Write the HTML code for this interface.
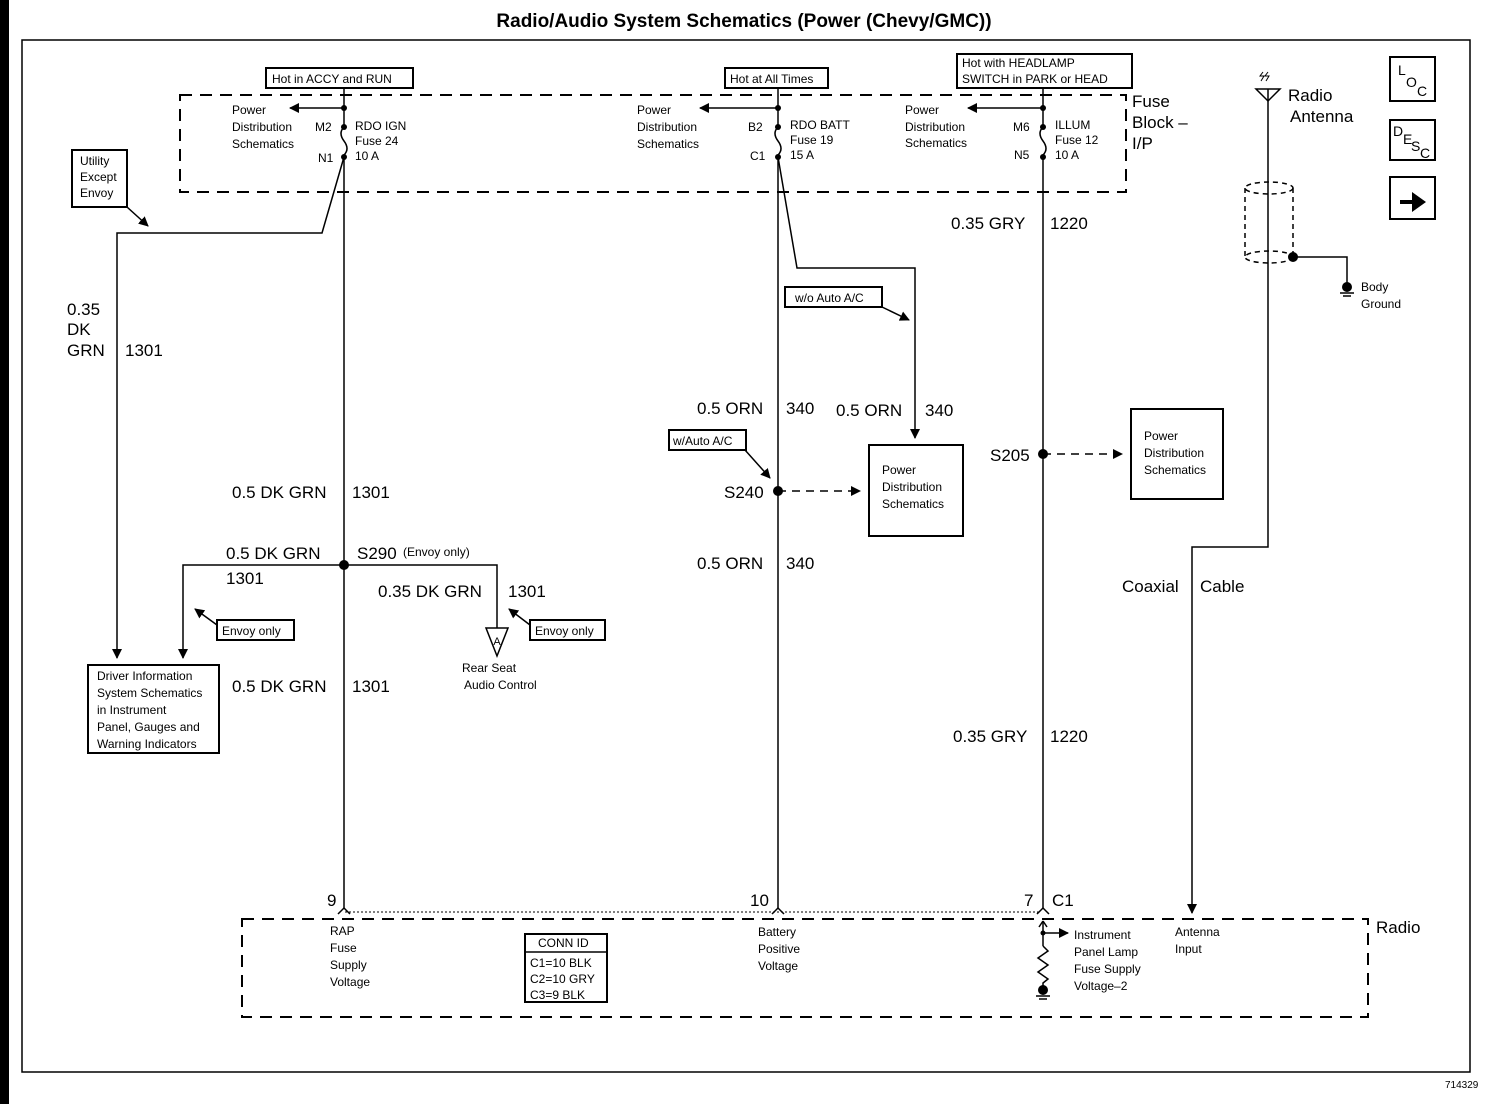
<!DOCTYPE html>
<html><head><meta charset="utf-8"><style>
html,body{margin:0;padding:0;background:#fff;}
svg{display:block;font-family:"Liberation Sans",Arial,sans-serif;}
.s{font-size:12px;}
.m{font-size:17px;}
</style></head><body>
<svg width="1488" height="1104" viewBox="0 0 1488 1104" xmlns="http://www.w3.org/2000/svg">
<defs>
<marker id="a" markerWidth="10" markerHeight="10" refX="9" refY="5" orient="auto" markerUnits="userSpaceOnUse"><path d="M0,0 L10,5 L0,10 z" fill="#000"/></marker>
</defs>
<rect x="0" y="0" width="9" height="1104" fill="#000"/>
<text x="744" y="27" text-anchor="middle" font-size="19" font-weight="bold">Radio/Audio System Schematics (Power (Chevy/GMC))</text>
<rect x="22" y="40" width="1448" height="1032" fill="none" stroke="#000" stroke-width="1.5"/>
<text x="1445" y="1088" font-size="10">714329</text>

<g stroke="#000" fill="none" stroke-width="2" stroke-dasharray="12,8">
<rect x="180" y="95" width="946" height="97"/>
<rect x="242" y="919" width="1126" height="98"/>
</g>
<line x1="345" y1="912" x2="1040" y2="912" stroke="#000" stroke-width="1" stroke-dasharray="2,2"/>

<g class="s">
<text x="1132" y="107" font-size="17">Fuse</text><text x="1132" y="128" font-size="17">Block –</text><text x="1132" y="149" font-size="17">I/P</text>
<text x="1376" y="933" font-size="17">Radio</text>
</g>

<!-- header labels -->
<g stroke="#000" stroke-width="2" fill="#fff">
<rect x="266" y="68" width="147" height="20"/>
<rect x="725" y="68" width="103" height="20"/>
<rect x="957" y="54" width="175" height="34"/>
<rect x="72" y="150" width="55" height="57"/>
<rect x="785" y="287" width="97" height="20"/>
<rect x="669" y="430" width="77" height="20"/>
<rect x="217" y="620" width="77" height="20"/>
<rect x="530" y="620" width="75" height="20"/>
<rect x="88" y="665" width="131" height="88"/>
<rect x="869" y="445" width="94" height="91"/>
<rect x="1131" y="409" width="92" height="90"/>
<rect x="525" y="934" width="82" height="68"/>
<rect x="1390" y="57" width="45" height="44"/>
<rect x="1390" y="120" width="45" height="40"/>
<rect x="1390" y="177" width="45" height="42"/>
</g>
<line x1="525" y1="952" x2="607" y2="952" stroke="#000" stroke-width="1.5"/>
<path d="M1400,200 h12 v-8 l14,10 l-14,10 v-8 h-12 z" fill="#000"/>
<g class="s">
<text x="272" y="83">Hot in ACCY and RUN</text>
<text x="730" y="83">Hot at All Times</text>
<text x="962" y="67">Hot with HEADLAMP</text>
<text x="962" y="83">SWITCH in PARK or HEAD</text>
<text x="80" y="165">Utility</text><text x="80" y="181">Except</text><text x="80" y="197">Envoy</text>
<text x="795" y="302">w/o Auto A/C</text>
<text x="673" y="445">w/Auto A/C</text>
<text x="222" y="635">Envoy only</text>
<text x="535" y="635">Envoy only</text>
<text x="97" y="680">Driver Information</text><text x="97" y="697">System Schematics</text><text x="97" y="714">in Instrument</text><text x="97" y="731">Panel, Gauges and</text><text x="97" y="748">Warning Indicators</text>
<text x="882" y="474">Power</text><text x="882" y="491">Distribution</text><text x="882" y="508">Schematics</text>
<text x="1144" y="440">Power</text><text x="1144" y="457">Distribution</text><text x="1144" y="474">Schematics</text>
<text x="538" y="947">CONN ID</text><text x="530" y="967">C1=10 BLK</text><text x="530" y="983">C2=10 GRY</text><text x="530" y="999">C3=9 BLK</text>
<text x="1398" y="75" font-size="14">L</text><text x="1406" y="87" font-size="14">O</text><text x="1417" y="96" font-size="14">C</text>
<text x="1393" y="136" font-size="14">D</text><text x="1403" y="144" font-size="14">E</text><text x="1411" y="151" font-size="14">S</text><text x="1420" y="158" font-size="14">C</text>

<text x="232" y="114">Power</text><text x="232" y="131">Distribution</text><text x="232" y="148">Schematics</text>
<text x="315" y="131">M2</text><text x="318" y="162">N1</text>
<text x="355" y="130">RDO IGN</text><text x="355" y="145">Fuse 24</text><text x="355" y="160">10 A</text>
<text x="637" y="114">Power</text><text x="637" y="131">Distribution</text><text x="637" y="148">Schematics</text>
<text x="748" y="131">B2</text><text x="750" y="160">C1</text>
<text x="790" y="129">RDO BATT</text><text x="790" y="144">Fuse 19</text><text x="790" y="159">15 A</text>
<text x="905" y="114">Power</text><text x="905" y="131">Distribution</text><text x="905" y="147">Schematics</text>
<text x="1013" y="131">M6</text><text x="1014" y="159">N5</text>
<text x="1055" y="129">ILLUM</text><text x="1055" y="144">Fuse 12</text><text x="1055" y="159">10 A</text>
<text x="1361" y="291">Body</text><text x="1361" y="308">Ground</text>
<text x="462" y="672">Rear Seat</text><text x="464" y="689">Audio Control</text>
<text x="330" y="935">RAP</text><text x="330" y="952">Fuse</text><text x="330" y="969">Supply</text><text x="330" y="986">Voltage</text>
<text x="758" y="936">Battery</text><text x="758" y="953">Positive</text><text x="758" y="970">Voltage</text>
<text x="1074" y="939">Instrument</text><text x="1074" y="956">Panel Lamp</text><text x="1074" y="973">Fuse Supply</text><text x="1074" y="990">Voltage–2</text>
<text x="1175" y="936">Antenna</text><text x="1175" y="953">Input</text>
<text x="403" y="556" font-size="12">(Envoy only)</text>
</g>

<g class="m">
<text x="1288" y="101">Radio</text><text x="1290" y="122">Antenna</text>
<text x="67" y="315">0.35</text><text x="67" y="335">DK</text><text x="67" y="356">GRN</text>
<line x1="117" y1="340" x2="117" y2="360" stroke="#000"/>
<text x="125" y="356">1301</text>
<text x="232" y="498">0.5 DK GRN</text><text x="352" y="498">1301</text>
<text x="226" y="559">0.5 DK GRN</text><text x="357" y="559">S290</text>
<text x="226" y="584">1301</text>
<text x="378" y="597">0.35 DK GRN</text><text x="508" y="597">1301</text>
<text x="232" y="692">0.5 DK GRN</text><text x="352" y="692">1301</text>
<text x="697" y="414">0.5 ORN</text><text x="786" y="414">340</text>
<text x="836" y="416">0.5 ORN</text><text x="925" y="416">340</text>
<text x="724" y="498">S240</text>
<text x="697" y="569">0.5 ORN</text><text x="786" y="569">340</text>
<text x="951" y="229">0.35 GRY</text><text x="1050" y="229">1220</text>
<text x="990" y="461">S205</text>
<text x="1122" y="592">Coaxial</text><text x="1200" y="592">Cable</text>
<text x="953" y="742">0.35 GRY</text><text x="1050" y="742">1220</text>
<text x="327" y="906">9</text><text x="750" y="906">10</text><text x="1024" y="906">7</text><text x="1052" y="906">C1</text>
</g>

<g stroke="#000" fill="none" stroke-width="1.5">
<!-- left column -->
<line x1="344" y1="88" x2="344" y2="125"/>
<path d="M344,127 q-6,6 0,14 q6,8 0,14"/>
<line x1="344" y1="157" x2="344" y2="908"/>
<line x1="344" y1="108" x2="290" y2="108" marker-end="url(#a)"/>
<path d="M344,157 L322,233 L117,233 L117,658" marker-end="url(#a)"/>
<line x1="127" y1="207" x2="148" y2="226" marker-end="url(#a)"/>
<path d="M344,565 L183,565 L183,658" marker-end="url(#a)"/>
<path d="M344,565 L497,565 L497,628"/>
<path d="M486,628 L508,628 L497,656 z"/>
<line x1="217" y1="625" x2="195" y2="609" marker-end="url(#a)"/>
<line x1="530" y1="625" x2="509" y2="609" marker-end="url(#a)"/>
<path d="M338,914 l6,-6 l6,6"/>
<!-- middle -->
<line x1="778" y1="88" x2="778" y2="125"/>
<path d="M778,127 q-6,6 0,14 q6,8 0,14"/>
<line x1="778" y1="157" x2="778" y2="908"/>
<line x1="778" y1="108" x2="700" y2="108" marker-end="url(#a)"/>
<path d="M778,157 L797,268 L915,268 L915,438" marker-end="url(#a)"/>
<line x1="882" y1="307" x2="909" y2="320" marker-end="url(#a)"/>
<line x1="745" y1="450" x2="770" y2="478" marker-end="url(#a)"/>
<line x1="778" y1="491" x2="860" y2="491" stroke-dasharray="8,6" marker-end="url(#a)"/>
<path d="M772,914 l6,-6 l6,6"/>
<!-- right -->
<line x1="1043" y1="88" x2="1043" y2="125"/>
<path d="M1043,127 q-6,6 0,14 q6,8 0,14"/>
<line x1="1043" y1="157" x2="1043" y2="908"/>
<line x1="1043" y1="108" x2="968" y2="108" marker-end="url(#a)"/>
<line x1="1043" y1="454" x2="1122" y2="454" stroke-dasharray="8,6" marker-end="url(#a)"/>
<path d="M1037,914 l6,-6 l6,6"/>
<path d="M1043,921 l-4,6 M1043,921 l4,6"/>
<line x1="1043" y1="922" x2="1043" y2="946"/>
<line x1="1043" y1="933" x2="1068" y2="933" marker-end="url(#a)"/>
<path d="M1043,946 l5,5 l-10,7 l10,7 l-10,7 l10,7 l-5,4 v8"/>
<line x1="1036" y1="996" x2="1050" y2="996"/><line x1="1039" y1="999" x2="1047" y2="999"/>
<!-- antenna -->
<path d="M1256,89 L1280,89 L1268,101 z"/>
<path d="M1263,72 l-3,4 l4,0 l-3,5 M1268,72 l-3,4 l4,0 l-3,5" stroke-width="1"/>
<path d="M1268,89 L1268,547 L1192,547 L1192,913" marker-end="url(#a)"/>
<g stroke-dasharray="5,4">
<ellipse cx="1269" cy="188" rx="24" ry="6"/>
<ellipse cx="1269" cy="257" rx="24" ry="6"/>
<line x1="1245" y1="188" x2="1245" y2="257"/><line x1="1293" y1="188" x2="1293" y2="257"/>
</g>
<path d="M1293,257 L1347,257 L1347,285"/>
<line x1="1340" y1="293" x2="1354" y2="293"/><line x1="1343" y1="296" x2="1351" y2="296"/>
</g>
<g fill="#000">
<circle cx="344" cy="108" r="3"/><circle cx="344" cy="127" r="3"/><circle cx="344" cy="157" r="3"/>
<circle cx="778" cy="108" r="3"/><circle cx="778" cy="127" r="3"/><circle cx="778" cy="157" r="3"/>
<circle cx="1043" cy="108" r="3"/><circle cx="1043" cy="127" r="3"/><circle cx="1043" cy="157" r="3"/>
<circle cx="344" cy="565" r="5"/><circle cx="778" cy="491" r="5"/><circle cx="1043" cy="454" r="5"/>
<circle cx="1293" cy="257" r="5"/><circle cx="1347" cy="287" r="5"/><circle cx="1043" cy="990" r="5"/>
<circle cx="1043" cy="933" r="2.5"/>
</g>
<text x="497" y="645" font-size="11" text-anchor="middle">A</text>
</svg>
</body></html>
